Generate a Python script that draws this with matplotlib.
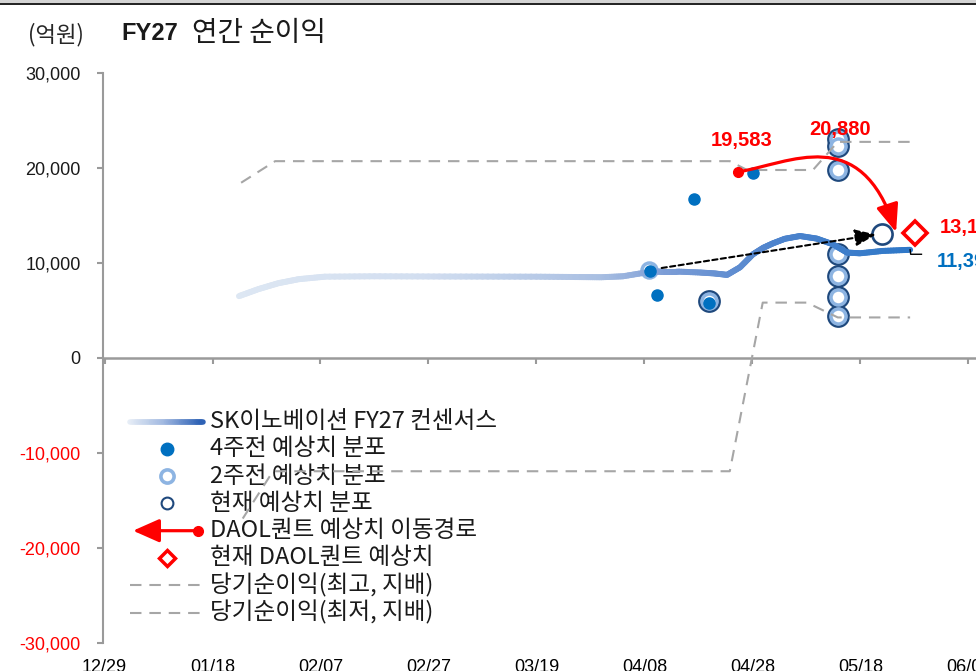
import numpy as np
import pandas as pd
import matplotlib
matplotlib.use('Agg')
import matplotlib.pyplot as plt
from matplotlib.collections import LineCollection
from matplotlib.colors import LinearSegmentedColormap, Normalize
from matplotlib.patches import FancyArrowPatch, Rectangle
from matplotlib.path import Path
from matplotlib.lines import Line2D

KR = ['Noto Sans CJK KR', 'DejaVu Sans']
NUM = ['Liberation Sans', 'Noto Sans CJK KR', 'DejaVu Sans']

# x values = days after 2025-12-29
base_date = pd.Timestamp('2025-12-29')
tick_days = list(range(0, 161, 20))
tick_labels = [(base_date + pd.Timedelta(days=d)).strftime('%m/%d') for d in tick_days]

# SK innovation FY27 consensus (억원)
cons_days = [24.9, 28.5, 32.2, 36.0, 40.8, 50, 60, 70, 80, 88, 92, 96, 100.9, 103, 106,
             110.3, 113, 115.3, 117.7, 120.1, 122, 123.8, 126, 128.8, 131.9, 134.9,
             137.5, 139.9, 144.1, 149.2]
cons_vals = [6510, 7250, 7875, 8300, 8560, 8600, 8580, 8570, 8560, 8520, 8500, 8600, 9060, 9100, 9100,
             9000, 8900, 8750, 9550, 10920, 11600, 12070, 12550, 12840, 12570, 11970,
             11100, 11020, 11270, 11390]

# 당기순이익 최고 / 최저
high_days = [25.3, 31.6, 115.8, 119.0, 131.2, 135.8, 149.2]
high_vals = [18450, 20720, 20720, 19790, 19790, 22750, 22750]
low_days = [25.6, 31.2, 115.8, 121.9, 130.1, 135.8, 149.2]
low_vals = [-16900, -11920, -11920, 5830, 5830, 4270, 4270]

# analyst estimate distributions
wk4_days = [101.0, 102.3, 109.2, 112.0, 120.1]
wk4_vals = [9170, 6610, 16770, 5770, 19500]
wk2_days = [100.9, 111.9, 135.8, 135.8, 135.8, 135.8, 135.8, 135.8, 135.8]
wk2_vals = [9270, 6020, 23060, 22290, 19840, 10920, 8640, 6370, 4380]
now_days = [111.9, 135.8, 135.8, 135.8, 135.8, 135.8, 135.8, 135.8, 143.9]
now_vals = [6020, 23060, 22290, 19840, 10920, 8640, 6370, 4380, 13090]

# DAOL quant estimate path
daol_days = [117.3, 135.8]
daol_vals = [19583, 20880]
daol_now_day = 150.1
daol_now_val = 13150

BLUE = '#0070c0'
LIGHT = '#8db4e2'
NAVY = '#1f497d'
GRAY = '#a6a6a6'
AXIS = '#9a9a9a'

fig = plt.figure(figsize=(9.76, 6.71), dpi=100)
ax = fig.add_axes([103 / 976, 28 / 671, 873 / 976, 570 / 671])
ax.set_xlim(-0.28, 161.4)
ax.set_ylim(-30000, 30000)

# gradient consensus line
cons_cmap = LinearSegmentedColormap.from_list(
    'cons', [(0.0, '#dde7f3'), (0.28, '#d2def0'), (0.54, '#a9bfe2'),
             (0.64, '#7c9dd6'), (0.8, '#4f84cd'), (1.0, '#2f78c8')])


def gradient_segments(x, y, n=10):
    xs, ys = [], []
    for i in range(len(x) - 1):
        t = np.linspace(0, 1, n, endpoint=False)
        xs.extend(x[i] + (x[i + 1] - x[i]) * t)
        ys.extend(y[i] + (y[i + 1] - y[i]) * t)
    xs.append(x[-1])
    ys.append(y[-1])
    pts = np.column_stack([xs, ys]).reshape(-1, 1, 2)
    return np.concatenate([pts[:-1], pts[1:]], axis=1), np.array(xs)


segs, xs = gradient_segments(cons_days, cons_vals)
norm = Normalize(cons_days[0], cons_days[-1])
lc = LineCollection(segs, colors=cons_cmap(norm((xs[:-1] + xs[1:]) / 2)),
                    linewidths=4.3, capstyle='round', joinstyle='round', zorder=4)
ax.add_collection(lc)

# high / low dashed lines
ax.plot(high_days, high_vals, color=GRAY, lw=1.5, dashes=(5.5, 3.8), zorder=4)
ax.plot(low_days, low_vals, color=GRAY, lw=1.5, dashes=(5.5, 3.8), zorder=4)

# estimate markers
ax.plot(now_days, now_vals, 'o', ms=14.5, mfc='white', mec=NAVY, mew=1.9, ls='none', zorder=2)
ax.plot(wk2_days, wk2_vals, 'o', ms=10.8, mfc='white', mec=LIGHT, mew=2.5, ls='none', zorder=3)
ax.plot(wk4_days, wk4_vals, 'o', ms=8, color=BLUE, ls='none', zorder=5)

# black dashed arrow (2 weeks ago -> now)
ax.annotate('', xy=(now_days[-1], now_vals[-1]), xytext=(wk2_days[0], wk2_vals[0]),
            arrowprops=dict(arrowstyle='-|>,head_length=0.8,head_width=0.32', color='black',
                            lw=1.5, ls=(0, (2.5, 1.6)), shrinkA=9, shrinkB=4, mutation_scale=16),
            zorder=6)

# DAOL path (red curved arrow)
p0 = (daol_days[0], daol_vals[0])
tip = (daol_now_day - 3.5, daol_now_val + 100)
ctrl = [(127, 20500), (140, 24800)]
red_path = Path([p0, ctrl[0], ctrl[1], tip],
                [Path.MOVETO, Path.CURVE4, Path.CURVE4, Path.CURVE4])
ax.add_patch(FancyArrowPatch(path=red_path, arrowstyle='-|>,head_length=1.0,head_width=0.4',
                             mutation_scale=17, color='red', lw=2.3, zorder=7))
ax.plot(daol_days[0], daol_vals[0], 'o', ms=7, color='red', zorder=8)
ax.plot(daol_now_day, daol_now_val, 'D', ms=12, mfc='white', mec='red', mew=2.6, zorder=8)

# value labels
lab_kw = dict(textcoords='offset points', fontsize=14.5, fontweight='bold', family=NUM,
              va='center', annotation_clip=False, zorder=9)
ax.annotate(f'{daol_vals[0]:,}', (daol_days[0], daol_vals[0]), xytext=(3, 23), ha='center',
            color='red', **lab_kw)
ax.annotate(f'{daol_vals[1]:,}', (daol_days[1], daol_vals[1]), xytext=(2, 22), ha='center',
            color='red', **lab_kw)
ax.annotate(f'{daol_now_val:,}', (daol_now_day, daol_now_val), xytext=(18, 4), ha='left',
            color='red', **lab_kw)
ax.annotate(f'{cons_vals[-1]:,}', (cons_days[-1], cons_vals[-1]), xytext=(19.5, -8.5), ha='left',
            color=BLUE, **lab_kw)
ax.plot([cons_days[-1], cons_days[-1] + 0.1, cons_days[-1] + 2.1],
        [cons_vals[-1], cons_vals[-1] - 470, cons_vals[-1] - 470], color='black', lw=1, zorder=5)

# axes styling
for s in ['top', 'right']:
    ax.spines[s].set_visible(False)
ax.spines['bottom'].set_position(('data', 0))
ax.spines['bottom'].set_color(AXIS)
ax.spines['bottom'].set_linewidth(1.8)
ax.spines['left'].set_color(AXIS)
ax.spines['left'].set_linewidth(1.5)
ax.set_xticks(tick_days)
ax.tick_params(axis='x', direction='out', length=4, width=1.5, color=AXIS, labelbottom=False)
ax.set_yticks(np.arange(-30000, 30001, 10000))
ax.set_yticklabels([f'{v:,}' for v in np.arange(-30000, 30001, 10000)])
ax.tick_params(axis='y', direction='out', length=4, width=1.5, color=AXIS, pad=12,
               labelsize=13)
for lab, v in zip(ax.get_yticklabels(), np.arange(-30000, 30001, 10000)):
    lab.set_family(NUM)
    lab.set_color('red' if v < 0 else '#1a1a1a')

sec = ax.secondary_xaxis(0)
sec.set_xticks(tick_days, labels=tick_labels)
sec.spines['bottom'].set_visible(False)
sec.tick_params(length=0, pad=11.5, labelsize=13)
for lab in sec.get_xticklabels():
    lab.set_family(NUM)

# legend (drawn by hand to keep Excel-like row spacing)
def ax_x(px):
    return (px - 103) / 873


def ax_y(py):
    return (643 - py) / 570


rows = ['SK이노베이션 FY27 컨센서스', '4주전 예상치 분포', '2주전 예상치 분포', '현재 예상치 분포',
        'DAOL퀀트 예상치 이동경로', '현재 DAOL퀀트 예상치', '당기순이익(최고, 지배)', '당기순이익(최저, 지배)']
row_y = [ax_y(421.5 + 27.3 * i) for i in range(len(rows))]
hx0, hx1, hxc, tx = ax_x(130), ax_x(203), ax_x(166.5), ax_x(210)
tr = ax.transAxes
for lbl, y in zip(rows, row_y):
    ax.text(tx, y, lbl, transform=tr, fontsize=17, family=KR, color='#1a1a1a',
            va='center', ha='left')

gx = np.linspace(hx0, hx1, 40)
gpts = np.column_stack([gx, np.full_like(gx, row_y[0])]).reshape(-1, 1, 2)
leg_cmap = LinearSegmentedColormap.from_list('leg', ['#e6edf6', '#9fb7e0', '#2e62b5'])
ax.add_collection(LineCollection(np.concatenate([gpts[:-1], gpts[1:]], axis=1),
                                 colors=leg_cmap(np.linspace(0, 1, 39)), linewidths=4,
                                 capstyle='round', transform=tr, clip_on=False))
ax.plot(hxc, row_y[1], 'o', ms=9, color=BLUE, transform=tr, clip_on=False)
ax.plot(hxc, row_y[2], 'o', ms=9.5, mfc='white', mec=LIGHT, mew=2.6, transform=tr, clip_on=False)
ax.plot(hxc, row_y[3], 'o', ms=8.5, mfc='white', mec=NAVY, mew=1.5, transform=tr, clip_on=False)
ax.add_patch(FancyArrowPatch((ax_x(198), row_y[4]), (ax_x(133), row_y[4]), transform=tr,
                             arrowstyle='-|>,head_length=0.95,head_width=0.42', mutation_scale=17,
                             color='red', lw=2.3, shrinkA=0, shrinkB=0, clip_on=False))
ax.plot(ax_x(198), row_y[4], 'o', ms=7, color='red', transform=tr, clip_on=False)
ax.plot(hxc, row_y[5], 'D', ms=8, mfc='white', mec='red', mew=2.5, transform=tr, clip_on=False)
for y in row_y[6:]:
    ax.plot([hx0, hx1], [y, y], color=GRAY, lw=1.5, dashes=(5.5, 3.8), transform=tr,
            clip_on=False)

# titles
fig.text(28 / 976, 1 - 35 / 671, '(억원)', fontsize=16, family=KR, color='#262626', va='center')
fig.text(121 / 976, 1 - 33 / 671, 'FY27', fontsize=17, fontweight='bold',
         family=NUM, color='#1a1a1a', va='center')
fig.text(192 / 976, 1 - 33 / 671, '연간 순이익', fontsize=20, fontweight='medium',
         family=KR, color='#1a1a1a', va='center')

# top border of the report frame
fig.add_artist(Rectangle((0, 1 - 3.3 / 671), 1, 3.3 / 671, transform=fig.transFigure,
                         color='#d4d4d4', lw=0))
fig.add_artist(Line2D([0, 1], [1 - 4.3 / 671] * 2, transform=fig.transFigure,
                      color='#202020', lw=1.4))

fig.savefig('out.png', dpi=100)
